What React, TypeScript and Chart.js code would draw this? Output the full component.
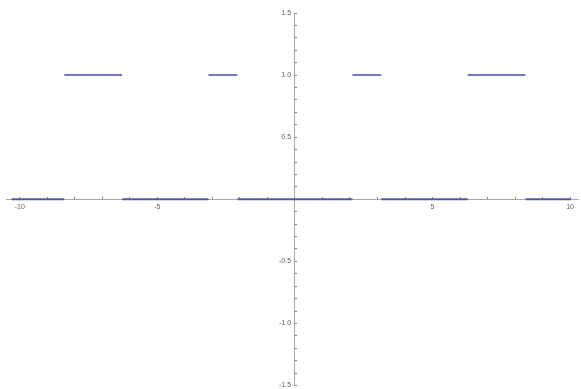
import React, { useEffect, useRef } from "react";
import { Chart, registerables } from "chart.js";

Chart.register(...registerables);

// ---- data ----
const highStarts = [-8.38, -3.14, 2.09, 6.28];
const highEnds = [-6.28, -2.09, 3.14, 8.38];
const highLevel = 1;

const lowStarts = [-10.3, -6.28, -2.09, 3.14, 8.38];
const lowEnds = [-8.38, -3.14, 2.09, 6.28, 10.02];
const lowLevel = 0;

const xTickValues = [-10, -9, -8, -7, -6, -5, -4, -3, -2, -1, 0, 1, 2, 3, 4, 5, 6, 7, 8, 9, 10];
const xLabelValues = [-10, -5, 5, 10];
const xLabelTexts = ["-10", "-5", "5", "10"];

const yTickValues = [
  -1.5, -1.4, -1.3, -1.2, -1.1, -1.0, -0.9, -0.8, -0.7, -0.6, -0.5, -0.4, -0.3, -0.2, -0.1, 0,
  0.1, 0.2, 0.3, 0.4, 0.5, 0.6, 0.7, 0.8, 0.9, 1.0, 1.1, 1.2, 1.3, 1.4, 1.5,
];
const yLabelValues = [-1.5, -1.0, -0.5, 0.5, 1.0, 1.5];
const yLabelTexts = ["-1.5", "-1.0", "-0.5", "0.5", "1.0", "1.5"];

const xMin = -10.5;
const xMax = 10.3;
const yMin = -1.5;
const yMax = 1.5;

function segmentsToPoints(starts: number[], ends: number[], level: number) {
  const pts: { x: number; y: number | null }[] = [];
  starts.forEach((s, i) => {
    pts.push({ x: s, y: level });
    pts.push({ x: ends[i], y: level });
    if (i < starts.length - 1) pts.push({ x: (ends[i] + starts[i + 1]) / 2, y: null });
  });
  return pts;
}

function labelFor(values: number[], texts: string[], v: number, suffix = "") {
  const idx = values.findIndex((t) => Math.abs(t - v) < 1e-6);
  return idx >= 0 ? texts[idx] + suffix : "";
}

export default function App() {
  const canvasRef = useRef<HTMLCanvasElement | null>(null);

  useEffect(() => {
    if (!canvasRef.current) return;
    const chart = new Chart(canvasRef.current, {
      type: "scatter",
      data: {
        datasets: [
          {
            data: segmentsToPoints(lowStarts, lowEnds, lowLevel) as any,
            showLine: true,
            spanGaps: false,
            borderColor: "rgb(88, 88, 160)",
            borderWidth: 2,
            pointRadius: 0,
          },
          {
            data: segmentsToPoints(highStarts, highEnds, highLevel) as any,
            showLine: true,
            spanGaps: false,
            borderColor: "rgb(118, 118, 198)",
            borderWidth: 2,
            pointRadius: 0,
          },
        ],
      },
      options: {
        animation: false,
        responsive: true,
        maintainAspectRatio: false,
        layout: { padding: { left: 6, right: 0, top: 13, bottom: 0 } },
        plugins: {
          legend: { display: false },
          tooltip: { enabled: false },
        },
        scales: {
          x: {
            type: "linear",
            position: { y: 0 } as any,
            min: xMin,
            max: xMax,
            afterBuildTicks: (scale: any) => {
              scale.ticks = xTickValues.map((v) => ({ value: v }));
            },
            border: { display: true, color: "#a8a8a8", width: 1, z: 0 },
            grid: {
              drawOnChartArea: false,
              drawTicks: true,
              tickLength: -3,
              tickColor: "#808080",
              tickWidth: 1,
            },
            ticks: {
              autoSkip: false,
              maxRotation: 0,
              padding: 7,
              color: "#606060",
              font: { family: "'Liberation Sans', Arial, sans-serif", size: 7 },
              callback: (v: any) => labelFor(xLabelValues, xLabelTexts, Number(v)),
            },
          },
          y: {
            type: "linear",
            position: { x: 0 } as any,
            min: yMin,
            max: yMax,
            afterBuildTicks: (scale: any) => {
              scale.ticks = yTickValues.map((v) => ({ value: v }));
            },
            border: { display: true, color: "#a8a8a8", width: 1 },
            grid: {
              drawOnChartArea: false,
              drawTicks: true,
              tickLength: -3,
              tickColor: "#808080",
              tickWidth: 1,
            },
            ticks: {
              autoSkip: false,
              padding: 0,
              color: "#606060",
              font: { family: "'Liberation Sans', Arial, sans-serif", size: 7, lineHeight: 1 },
              callback: (v: any) => labelFor(yLabelValues, yLabelTexts, Number(v), "  "),
            },
          },
        },
      } as any,
    });
    return () => chart.destroy();
  }, []);

  return (
    <div style={{ position: "absolute", left: 0, top: 0, width: 581, height: 389, background: "#ffffff" }}>
      <canvas ref={canvasRef} />
    </div>
  );
}
